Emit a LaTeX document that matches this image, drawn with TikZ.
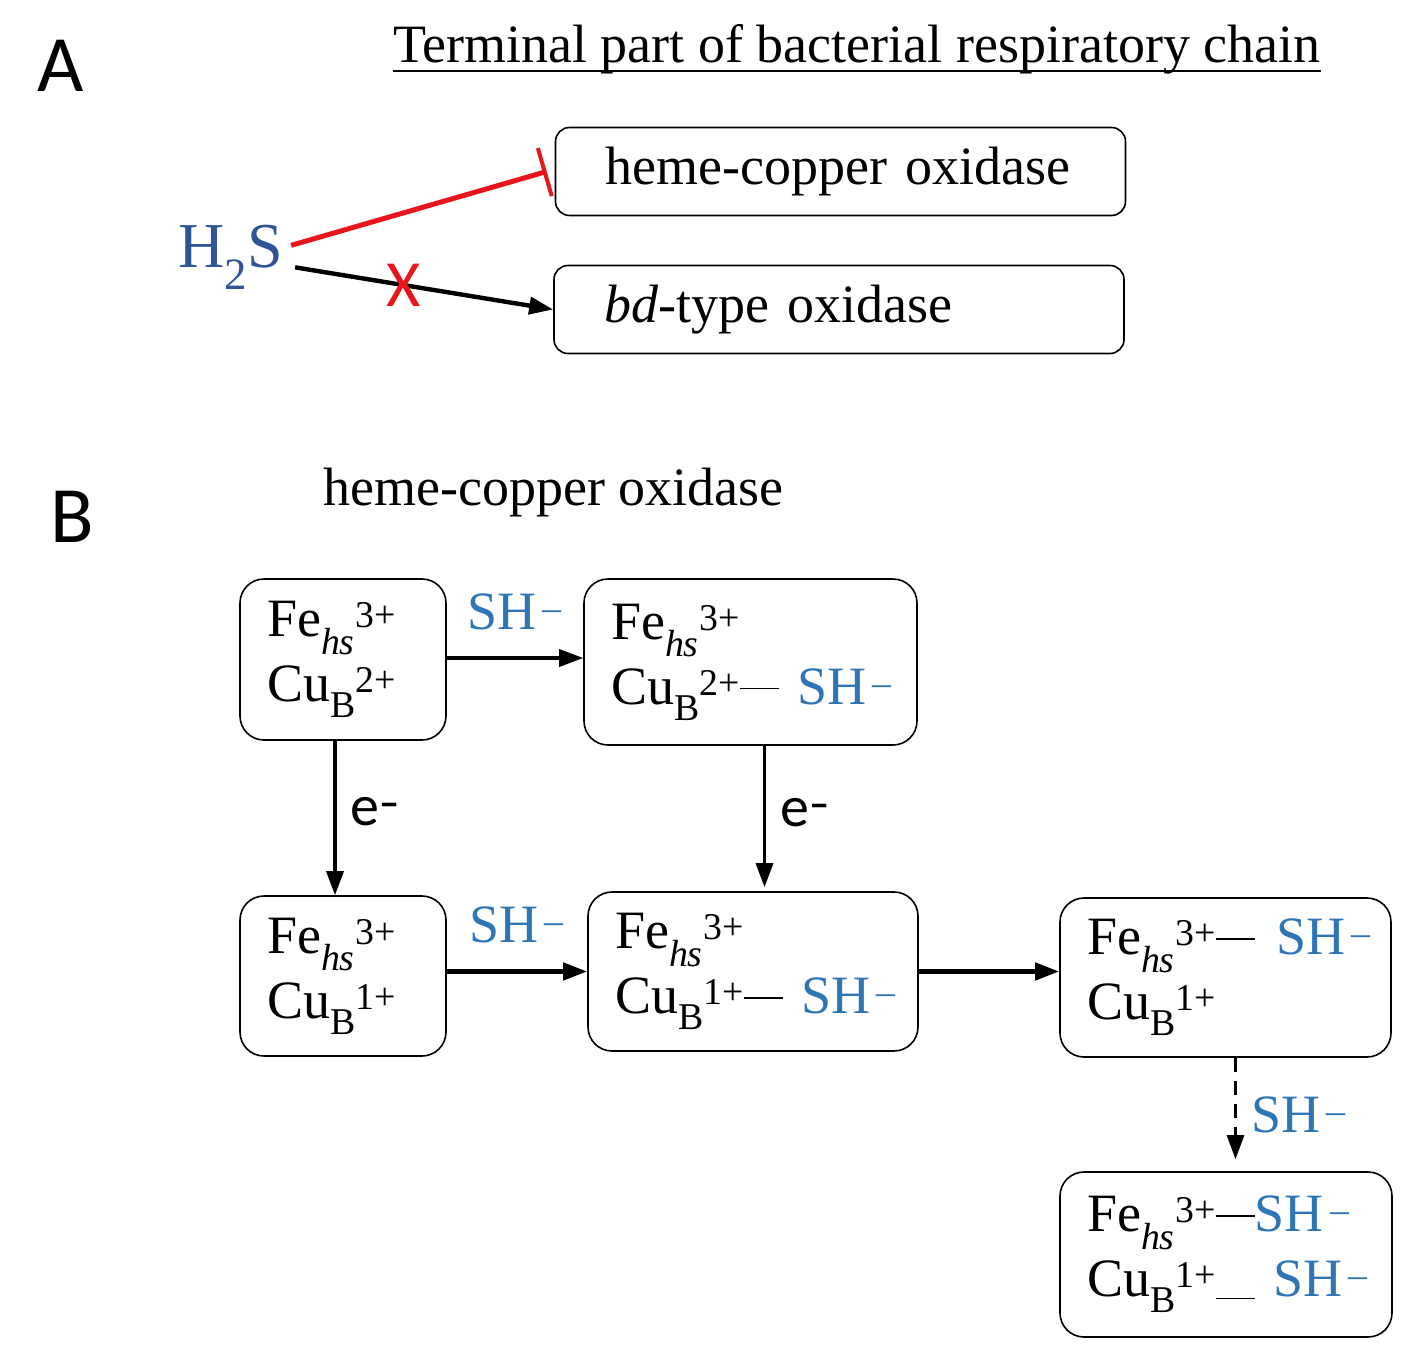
\documentclass[tikz,border=0pt]{standalone}
\usepackage{fontspec}
\setmainfont{Liberation Serif}
\newfontfamily\labelfont{Carlito}
\usepackage{xcolor}
\usepackage{tikz}
\usetikzlibrary{arrows.meta}
\definecolor{shblue}{RGB}{46,117,182}
\definecolor{hsblue}{RGB}{47,85,151}
\definecolor{inhred}{RGB}{232,22,28}
\newcommand{\Fehs}[1]{Fe\textsubscript{\textit{hs}}\textsuperscript{#1}}
\newcommand{\CuB}[1]{Cu\textsubscript{B}\textsuperscript{#1}}
\newcommand{\SHion}{\textcolor{shblue}{SH\textsuperscript{\,–}}}
\newcommand{\bond}{\rule[0.27em]{0.72em}{0.035em}}
\newcommand{\lowbond}{\rule[-0.05em]{0.72em}{0.035em}}
\tikzset{
  bigtext/.style={font=\fontsize{54}{65}\selectfont},
  oxbox/.style={
    draw,
    bigtext,
    rounded corners=14pt,
    line width=1.6pt,
    text width=470pt,
    inner xsep=50pt,
    minimum height=88pt,
    align=left
  },
  state/.style={
    draw,
    bigtext,
    rounded corners=24pt,
    line width=1.6pt,
    align=left,
    inner xsep=27pt,
    inner ysep=0pt
  },
  panel/.style={font=\labelfont\fontsize{80}{90}\selectfont, anchor=base west, inner sep=0pt},
  eminus/.style={font=\labelfont\fontsize{58}{64}\selectfont, inner sep=2pt},
  assoc/.style={-{Triangle[length=24pt,width=17pt]},line width=3.4pt},
  weak/.style={-{Triangle[length=24pt,width=17pt]},line width=3pt,dash pattern=on 14pt off 9pt},
  inhibit/.style={-{Bar[width=50pt,line width=4pt]},line width=5pt,draw=inhred}
}

\begin{document}
\begin{tikzpicture}[x=1pt,y=-1pt]
  \useasboundingbox (0,0) rectangle (1413,1364);
  % panel A
  \node[panel] (pa) at (37,92) {A};
  \node[bigtext,anchor=base west,inner sep=0pt] (title) at (393,63) {Terminal part of bacterial respiratory chain};
  \draw[line width=2.5pt] ([yshift=-8pt]title.base west) -- ([yshift=-8pt]title.base east);
  \node[oxbox] (hco) at (840.5,171.5) {heme-copper oxidase};
  \node[oxbox] (bd) at (839,309.5) {\textit{bd}-type oxidase};
  \node[font=\fontsize{64}{70}\selectfont,text=hsblue,anchor=base west,inner sep=0pt] (h2s) at (178,268) {H\textsubscript{2}S};
  \draw[inhibit] ([xshift=8pt,yshift=12pt]h2s.east) -- ([xshift=-8pt]hco.west);
  \draw[assoc,line width=4.4pt] ([xshift=12pt,yshift=-10pt]h2s.east) -- (bd.west)
    node[pos=0.42,text=inhred,font=\labelfont\fontsize{66}{70}\selectfont,inner sep=0pt] (block) {X};

  % panel B
  \node[panel] (pb) at (50,542) {B};
  \node[bigtext,anchor=base west,inner sep=0pt] (btitle) at (323,505) {heme-copper oxidase};
  \node[state,minimum width=206pt,minimum height=161pt,text width=152pt] (s1) at (343,659.5) {\Fehs{3+}\\\CuB{2+}};
  \node[state,minimum width=333pt,minimum height=166pt,text width=279pt] (s2) at (750.5,662) {\Fehs{3+}\\\mbox{\CuB{2+}\bond~\SHion}};
  \node[state,minimum width=206pt,minimum height=160pt,text width=152pt] (s3) at (343,976) {\Fehs{3+}\\\CuB{1+}};
  \node[state,minimum width=330pt,minimum height=159pt,text width=276pt] (s4) at (753,971.5) {\Fehs{3+}\\\mbox{\CuB{1+}\bond~\SHion}};
  \node[state,minimum width=331pt,minimum height=159pt,text width=277pt] (s5) at (1225.5,977.5) {\mbox{\Fehs{3+}\bond\hspace{0.4em}\SHion}\\\CuB{1+}};
  \node[state,minimum width=332pt,minimum height=165pt,text width=278pt] (s6) at (1226,1254.5) {\mbox{\Fehs{3+}\bond\SHion}\\\mbox{\CuB{1+}\lowbond~\SHion}};

  \draw[assoc] (s1.east |- 0,658) -- (s2.west |- 0,658)
    node[midway,above=26pt,bigtext,inner sep=0pt] (sh12) {\SHion};
  \draw[assoc] ([xshift=-8pt]s1.south) -- ([xshift=-8pt]s3.north)
    node[midway,right=12pt,yshift=6pt,eminus] (e13) {e\textsuperscript{\textbf{–}}};
  \draw[assoc,shorten >=4pt] ([xshift=14pt]s2.south) -- ([xshift=14pt]s2.south |- s4.north)
    node[midway,right=12pt,yshift=6pt,eminus] (e24) {e\textsuperscript{\textbf{–}}};
  \draw[assoc,line width=4.4pt] (s4.west -| s3.east) -- (s4.west)
    node[midway,above=26pt,bigtext,inner sep=0pt] (sh34) {\SHion};
  \draw[assoc,line width=4.4pt] (s4.east) -- (s4.east -| s5.west);
  \draw[weak,shorten >=12pt] ([xshift=10pt]s5.south) -- ([xshift=10pt]s5.south |- s6.north)
    node[midway,right=14pt,bigtext,inner sep=0pt] (sh56) {\SHion};
\end{tikzpicture}
\end{document}
